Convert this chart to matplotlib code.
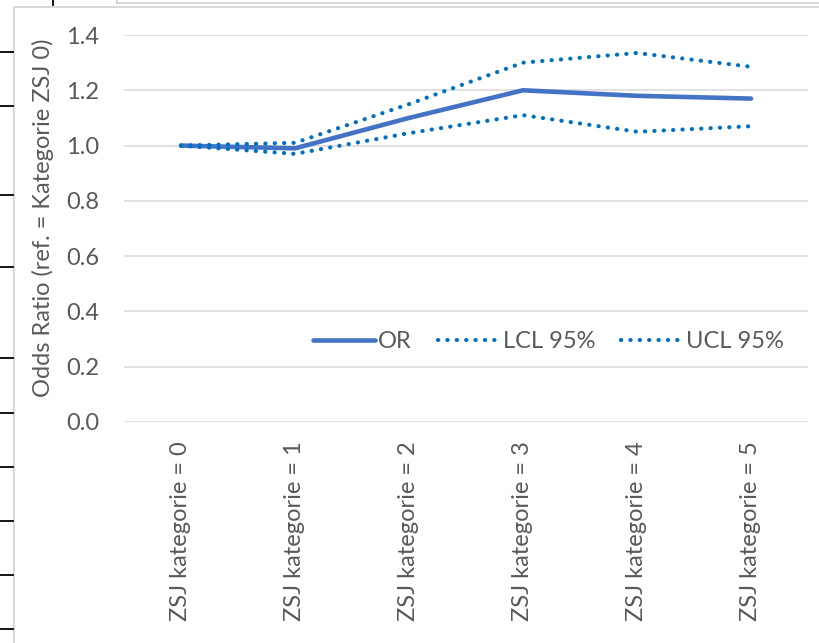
import matplotlib
matplotlib.use("Agg")
import matplotlib.pyplot as plt
from matplotlib.lines import Line2D
from matplotlib.ticker import FormatStrFormatter
import numpy as np

plt.rcParams['font.family'] = ['Lato', 'DejaVu Sans']

categories = ['ZSJ kategorie = 0', 'ZSJ kategorie = 1', 'ZSJ kategorie = 2',
              'ZSJ kategorie = 3', 'ZSJ kategorie = 4', 'ZSJ kategorie = 5']
odds_ratio = [1.00, 0.99, 1.10, 1.20, 1.18, 1.17]
lcl_95 = [1.00, 0.97, 1.045, 1.11, 1.05, 1.07]
ucl_95 = [1.00, 1.01, 1.15, 1.30, 1.335, 1.285]
y_ticks = [0.0, 0.2, 0.4, 0.6, 0.8, 1.0, 1.2, 1.4]

W, H = 820, 643
grey_text = '#595959'
grid_col = '#D9D9D9'

fig = plt.figure(figsize=(W / 100, H / 100), dpi=100)
ax = fig.add_axes([124 / W, 1 - 422 / H, (808 - 124) / W, (422 - 35) / H])

x = np.arange(len(categories))
ax.plot(x, odds_ratio, color='#4472C4', lw=3.3, solid_capstyle='round',
        solid_joinstyle='round', label='OR', zorder=3)
dots = (0, (0.05, 2.2))
ax.plot(x, lcl_95, color='#0070C0', lw=3.0, linestyle=dots,
        dash_capstyle='round', label='LCL 95%', zorder=4)
ax.plot(x, ucl_95, color='#0070C0', lw=3.0, linestyle=dots,
        dash_capstyle='round', label='UCL 95%', zorder=4)

ax.set_xlim(-0.5, len(categories) - 0.5)
ax.set_ylim(0, 1.4)
ax.set_yticks(y_ticks)
ax.yaxis.set_major_formatter(FormatStrFormatter('%.1f'))
ax.set_xticks(x)
ax.set_xticklabels(categories, rotation=90, va='top', ha='center')
ax.grid(axis='y', color=grid_col, lw=1.1)
ax.set_axisbelow(True)
for s in ax.spines.values():
    s.set_visible(False)
ax.tick_params(axis='both', length=0, labelsize=17, colors=grey_text)
ax.tick_params(axis='y', pad=18)
ax.tick_params(axis='x', pad=14)

fig.text(43 / W, 1 - 218 / H, 'Odds Ratio (ref. = Kategorie ZSJ 0)', rotation=90,
         ha='center', va='center', fontsize=17, color=grey_text)

leg = ax.legend(loc='center', bbox_to_anchor=(0.621, 0.207), ncol=3, frameon=False,
                fontsize=17, handlelength=2.6, handletextpad=0.15, columnspacing=1.1)
for t in leg.get_texts():
    t.set_color(grey_text)


def px_line(x0, y0, x1, y1, color, lw):
    fig.add_artist(Line2D([x0 / W, x1 / W], [1 - y0 / H, 1 - y1 / H],
                          transform=fig.transFigure, color=color, lw=lw))


# chart frame and the sheet behind it
px_line(14, 7, 14, H, '#D9D9D9', 1.5)
px_line(14, 7, W, 7, '#D9D9D9', 1.5)
for yy in [52, 106, 195, 267, 358, 413, 467, 521, 575, 629]:
    px_line(0, yy, 13, yy, 'black', 1.3)
px_line(53, 0, 53, 5, 'black', 1.3)
px_line(117, 0, 117, 3, '#D0D0D0', 1.2)
px_line(117, 3, W, 3, '#D0D0D0', 1.2)

fig.savefig('out.png', dpi=100)
